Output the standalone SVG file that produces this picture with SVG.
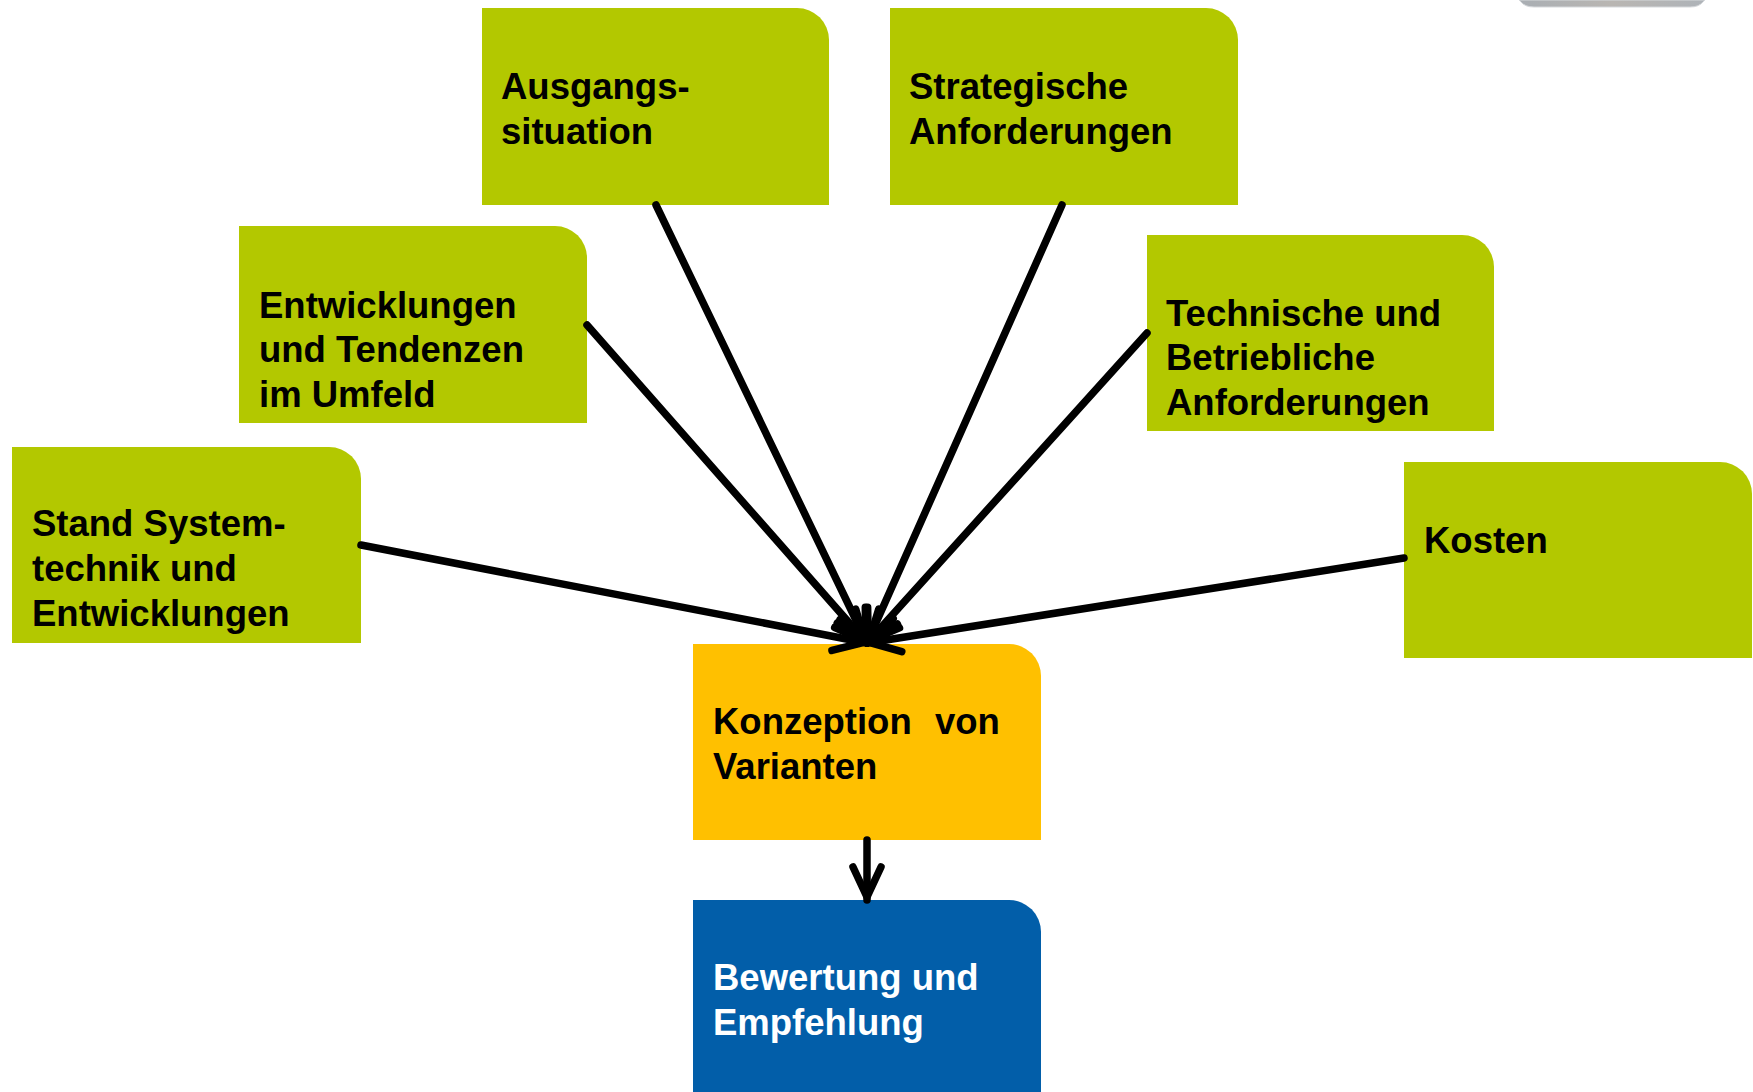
<svg xmlns="http://www.w3.org/2000/svg" width="1753" height="1092" viewBox="0 0 1753 1092">
  <defs>
    <style>
      .box-green { fill: #B3C800; }
      .box-orange { fill: #FFC000; }
      .box-blue { fill: #025EA9; }
      .label { font-family: "Liberation Sans", Arial, sans-serif; font-weight: bold; font-size: 36.5px; fill: #000; }
      .label-light { fill: #FFFFFF; }
      .conn { fill: none; stroke: #000; stroke-width: 7.5; stroke-linecap: round; marker-end: url(#open-arrow); }
    </style>
    <marker id="open-arrow" markerUnits="userSpaceOnUse" markerWidth="80" markerHeight="80" viewBox="-40 -40 80 80" refX="3" refY="0" orient="auto" overflow="visible">
      <path d="M-30,-14 L0,0 L-30,14" fill="none" stroke="#000" stroke-width="7.5" stroke-linecap="round" stroke-linejoin="round"/>
    </marker>
    <linearGradient id="tab-grad" x1="0" y1="0" x2="1" y2="0">
      <stop offset="0" stop-color="#a9aeb3"/>
      <stop offset="0.5" stop-color="#b9b6b2"/>
      <stop offset="1" stop-color="#aeb3b8"/>
    </linearGradient>
  </defs>

  <rect width="1753" height="1092" fill="#FFFFFF"/>

  <!-- cut-off grey tab at the top edge -->
  <path d="M1519,0 L1705,0 L1703,2 Q1699,7 1690,7 L1534,7 Q1525,7 1521,2 Z" fill="url(#tab-grad)" stroke="#d6d9dc" stroke-width="1"/>

  <!-- input nodes -->
  <g id="node-ausgangssituation">
    <path class="box-green" d="M482,8 H797 A32,32 0 0 1 829,40 V205 H482 Z"/>
    <text class="label" x="501" y="99">Ausgangs-</text>
    <text class="label" x="501" y="144">situation</text>
  </g>

  <g id="node-strategische-anforderungen">
    <path class="box-green" d="M890,8 H1206 A32,32 0 0 1 1238,40 V205 H890 Z"/>
    <text class="label" x="909" y="99">Strategische</text>
    <text class="label" x="909" y="144">Anforderungen</text>
  </g>

  <g id="node-entwicklungen-tendenzen">
    <path class="box-green" d="M239,226 H555 A32,32 0 0 1 587,258 V423 H239 Z"/>
    <text class="label" x="259" y="318">Entwicklungen</text>
    <text class="label" x="259" y="362">und Tendenzen</text>
    <text class="label" x="259" y="407">im Umfeld</text>
  </g>

  <g id="node-technische-betriebliche">
    <path class="box-green" d="M1147,235 H1462 A32,32 0 0 1 1494,267 V431 H1147 Z"/>
    <text class="label" x="1166" y="326">Technische und</text>
    <text class="label" x="1166" y="370">Betriebliche</text>
    <text class="label" x="1166" y="415">Anforderungen</text>
  </g>

  <g id="node-stand-systemtechnik">
    <path class="box-green" d="M12,447 H329 A32,32 0 0 1 361,479 V643 H12 Z"/>
    <text class="label" x="32" y="536">Stand System-</text>
    <text class="label" x="32" y="581">technik und</text>
    <text class="label" x="32" y="626">Entwicklungen</text>
  </g>

  <g id="node-kosten">
    <path class="box-green" d="M1404,462 H1720 A32,32 0 0 1 1752,494 V658 H1404 Z"/>
    <text class="label" x="1424" y="553">Kosten</text>
  </g>

  <!-- central node -->
  <g id="node-konzeption">
    <path class="box-orange" d="M693,644 H1009 A32,32 0 0 1 1041,676 V840 H693 Z"/>
    <text class="label" x="713" y="734">Konzeption</text>
    <text class="label" x="935" y="734">von</text>
    <text class="label" x="713" y="779">Varianten</text>
  </g>

  <!-- result node -->
  <g id="node-bewertung">
    <path class="box-blue" d="M693,900 H1009 A32,32 0 0 1 1041,932 V1092 H693 Z"/>
    <text class="label label-light" x="713" y="990">Bewertung und</text>
    <text class="label label-light" x="713" y="1035">Empfehlung</text>
  </g>

  <!-- connectors -->
  <g id="connectors">
    <line class="conn" x1="361" y1="545" x2="867" y2="643"/>
    <line class="conn" x1="587" y1="325" x2="867" y2="643"/>
    <line class="conn" x1="656" y1="205" x2="867" y2="643"/>
    <line class="conn" x1="1062" y1="205" x2="867" y2="643"/>
    <line class="conn" x1="1147" y1="333" x2="867" y2="643"/>
    <line class="conn" x1="1404" y1="558" x2="867" y2="643"/>
    <line class="conn" x1="867" y1="840" x2="867" y2="900"/>
  </g>
</svg>
